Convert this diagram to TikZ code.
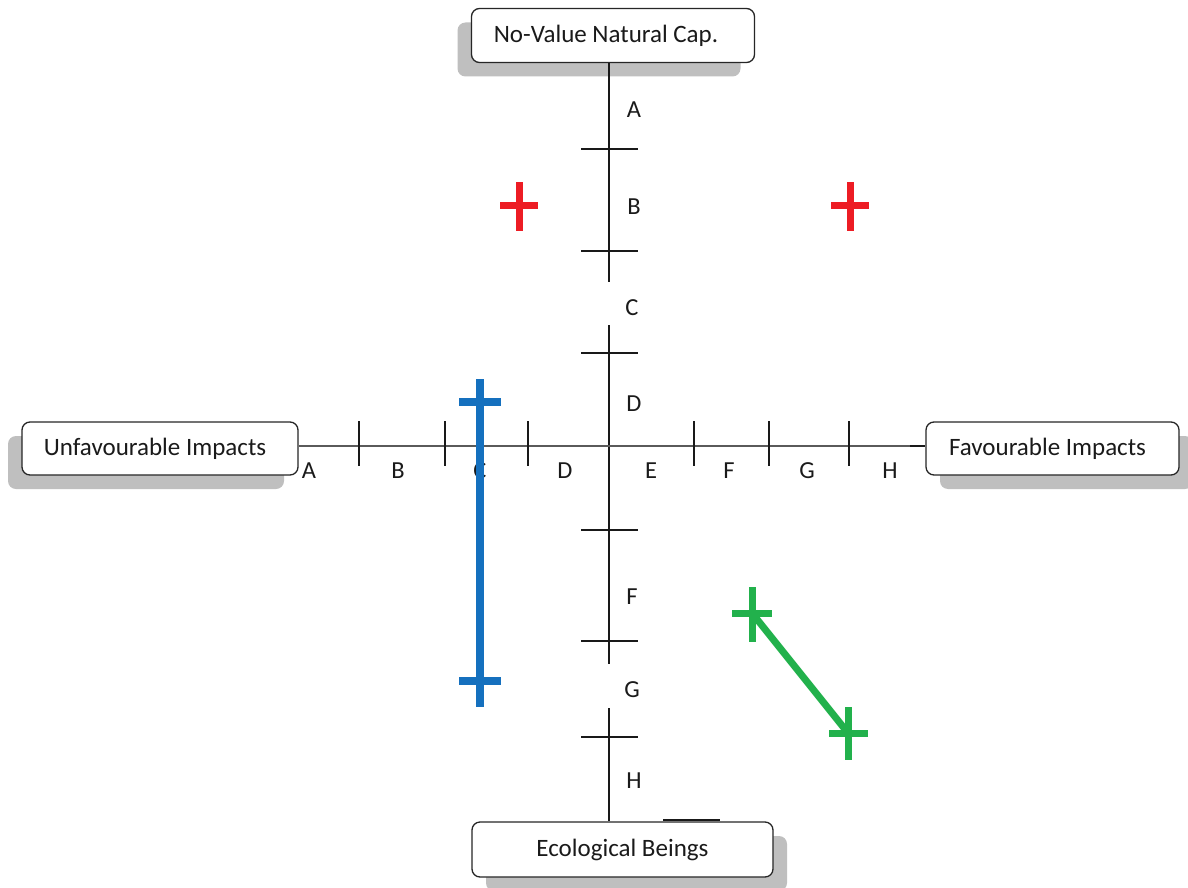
\documentclass[tikz,border=0pt]{standalone}
\usepackage{fontspec}
\setmainfont{Carlito}
\usetikzlibrary{shadows}
\definecolor{axgray}{HTML}{5A5A5A}
\definecolor{mblue}{HTML}{1570BE}
\definecolor{mgreen}{HTML}{22B14C}
\definecolor{mred}{HTML}{ED1C24}
\definecolor{shade}{HTML}{BFBFBF}
\definecolor{txt}{HTML}{1A1A1A}
\begin{document}
\begin{tikzpicture}[x=1pt,y=-1pt,
  box/.style={draw=black!85, line width=1.3pt, rounded corners=8pt, fill=white,
    inner sep=0pt, text=txt, font=\fontsize{25}{30}\selectfont},
  shadowL/.style={drop shadow={shadow xshift=-14pt, shadow yshift=-14pt, fill=shade, opacity=1}},
  shadowR/.style={drop shadow={shadow xshift=14pt, shadow yshift=-14pt, fill=shade, opacity=1}},
  lbl/.style={font=\fontsize{24.5}{28}\selectfont, text=txt, inner sep=0pt},
  axv/.style={draw=black!90, line width=1.5pt},
  axh/.style={draw=axgray, line width=2pt},
  tickmark/.style={draw=black!90, line width=1.5pt},
  bluebar/.style={draw=mblue, line width=8pt},
  greenbar/.style={draw=mgreen, line width=7pt},
  redbar/.style={draw=mred, line width=7pt}]
\useasboundingbox (0,0) rectangle (1188,888);
\clip (0,0) rectangle (1188,888);

% boxes
\node[box, shadowL, minimum width=283pt, minimum height=54pt] (top) at (613,35.5) {\kern-14pt\raisebox{-2pt}{No-Value Natural Cap.}};
\node[box, shadowL, minimum width=276pt, minimum height=53pt] (left) at (160,448.5) {\kern-10pt\raisebox{-2pt}{Unfavourable Impacts}};
\node[box, shadowR, minimum width=253pt, minimum height=53pt] (right) at (1052.5,448.5) {\kern-10pt\raisebox{-2pt}{Favourable Impacts}};
\node[box, shadowR, minimum width=301pt, minimum height=55pt] (bottom) at (622.5,849.5) {\raisebox{-2pt}{Ecological Beings}};

% vertical axis
\coordinate (v1) at (609,282);
\coordinate (v2) at (609,325);
\coordinate (v3) at (609,664);
\coordinate (v4) at (609,708);
\draw[axv] (top.south -| v1) -- (v1);
\draw[axv] (v2) -- (v3);
\draw[axv] (v4) -- (bottom.north -| v4);
\foreach \y in {149,251,353,530,641,737}
  \draw[tickmark] (581,\y) -- (638,\y);

% horizontal axis
\coordinate (h0) at (0,446);
\coordinate (h1) at (910,446);
\draw[axh] (left.east |- h0) -- (right.west |- h0);
\draw[draw=black!90, line width=1.5pt] (h1) -- (right.west |- h0);
\foreach \x in {359,445,528,694,769,849}
  \draw[tickmark] (\x,421) -- (\x,466);

% short line above bottom box
\draw[draw=black!90, line width=1.3pt] (663,820) -- (720,820);

% vertical labels
\node[lbl] (la) at (634,110) {A};
\node[lbl] (lb) at (634,207) {B};
\node[lbl] (lc) at (632,308) {C};
\node[lbl] (ld) at (634,404) {D};
\node[lbl] (lf) at (632,597) {F};
\node[lbl] (lg) at (632,690) {G};
\node[lbl] (lh) at (634,781) {H};

% horizontal labels
\node[lbl] (ha) at (309,471) {A};
\node[lbl] (hb) at (398,471) {B};
\node[lbl] (hc) at (480,471) {C};
\node[lbl] (hd) at (565,471) {D};
\node[lbl] (he) at (651,471) {E};
\node[lbl] (hf) at (729,471) {F};
\node[lbl] (hg) at (807,471) {G};
\node[lbl] (hh) at (890,471) {H};

% blue range
\coordinate (b1) at (480,379);
\coordinate (b2) at (480,707);
\draw[bluebar] (b1) -- (b2);
\draw[bluebar] (459,402) -- (501,402);
\draw[bluebar] (459,681) -- (501,681);

% green
\coordinate (g1) at (752,613);
\coordinate (g2) at (848,733);
\draw[greenbar] (g1) -- (g2);
\draw[greenbar] (732,613) -- (772,613);
\draw[greenbar] (752,587) -- (752,642);
\draw[greenbar] (829,733) -- (868,733);
\draw[greenbar] (848,707) -- (848,760);

% red
\draw[redbar] (500,205) -- (538,205);
\draw[redbar] (519,182) -- (519,231);
\draw[redbar] (831,205) -- (869,205);
\draw[redbar] (850,182) -- (850,231);
\end{tikzpicture}
\end{document}
